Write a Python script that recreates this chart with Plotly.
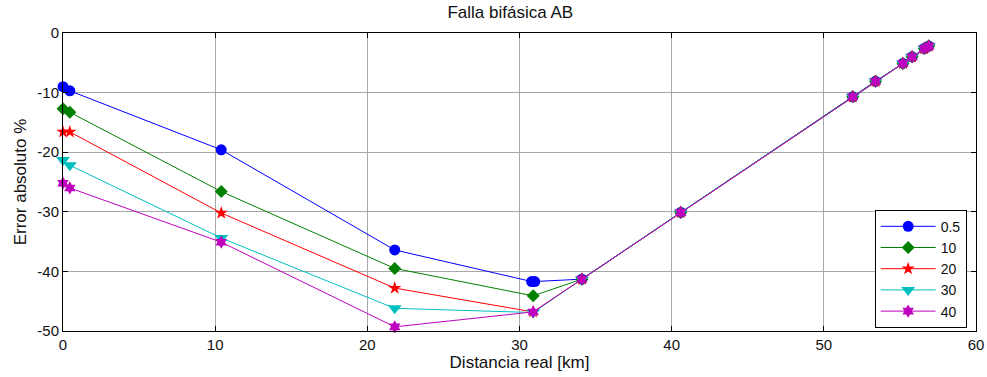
import plotly.graph_objects as go

x_blue = [0, 0.45, 10.4, 21.8, 30.8, 31.0, 34.1, 40.6, 51.9, 53.4, 55.2, 55.8, 56.6, 56.9]
y_blue = [-9.0, -9.7, -19.6, -36.4, -41.7, -41.7, -41.3, -30.1, -10.7, -8.1, -5.1, -4.0, -2.6, -2.2]

x_common = [0, 0.45, 10.4, 21.8, 30.9, 34.1, 40.6, 51.9, 53.4, 55.2, 55.8, 56.6, 56.9]
y_10 = [-12.7, -13.3, -26.6, -39.5, -44.1, -41.3, -30.1, -10.7, -8.1, -5.1, -4.0, -2.6, -2.2]
y_20 = [-16.6, -16.6, -30.2, -42.8, -46.8, -41.3, -30.1, -10.7, -8.1, -5.1, -4.0, -2.6, -2.2]
y_30 = [-21.3, -22.2, -34.4, -46.2, -46.9, -41.3, -30.1, -10.7, -8.1, -5.1, -4.0, -2.6, -2.2]
y_40 = [-25.2, -26.0, -35.1, -49.3, -46.8, -41.3, -30.1, -10.7, -8.1, -5.1, -4.0, -2.6, -2.2]

series_names = ["0.5", "10", "20", "30", "40"]
colors = ["#0000ff", "#008000", "#ff0000", "#00bfbf", "#bf00bf"]
symbols = ["circle", "diamond", "star", "triangle-down", "hexagram"]
sizes = [11, 10, 10, 12, 10]

x_ticks = [0, 10, 20, 30, 40, 50, 60]
x_ticklabels = ["0", "10", "20", "30", "40", "50", "60"]
y_ticks = [-50, -40, -30, -20, -10, 0]
y_ticklabels = ["-50", "-40", "-30", "-20", "-10", "0"]

xs = [x_blue, x_common, x_common, x_common, x_common]
ys = [y_blue, y_10, y_20, y_30, y_40]

fig = go.Figure()
for name, c, s, sz, xv, yv in zip(series_names, colors, symbols, sizes, xs, ys):
    fig.add_trace(go.Scatter(
        x=xv, y=yv, name=name, mode="lines+markers",
        line=dict(color=c, width=1),
        marker=dict(color=c, symbol=s, size=sz, line=dict(width=0)),
        cliponaxis=False,
    ))

font = "Liberation Sans, Arial, sans-serif"
axis_common = dict(
    showline=True, linecolor="black", linewidth=1, mirror="ticks",
    ticks="inside", ticklen=5, tickcolor="black",
    showgrid=True, gridcolor="#a8a8a8", gridwidth=1,
    zeroline=False, tickfont=dict(family=font, size=15, color="#111"),
    automargin=False,
)

fig.update_layout(
    width=987, height=377,
    margin=dict(l=63, r=11, t=33, b=46),
    paper_bgcolor="white", plot_bgcolor="white",
    title=dict(text="Falla bifásica AB", x=0.517, xanchor="center", y=0.968, yanchor="middle",
               font=dict(family=font, size=17, color="#111")),
    xaxis=dict(range=[0, 60], tickvals=x_ticks, ticktext=x_ticklabels,
               title=dict(text="Distancia real [km]", font=dict(family=font, size=17, color="#111"), standoff=4),
               **axis_common),
    yaxis=dict(range=[-50, 0], tickvals=y_ticks, ticktext=y_ticklabels,
               title=dict(text="Error absoluto %", font=dict(family=font, size=17, color="#111"), standoff=6),
               **axis_common),
    legend=dict(x=0.889, y=0.407, xanchor="left", yanchor="top",
                bgcolor="white", bordercolor="black", borderwidth=1,
                font=dict(family=font, size=14, color="#111"),
                tracegroupgap=0, itemwidth=55),
    showlegend=True,
)

fig.write_html("out.html", config={"displayModeBar": False},
               post_script="document.body.style.margin='0';document.body.style.overflow='hidden';")
